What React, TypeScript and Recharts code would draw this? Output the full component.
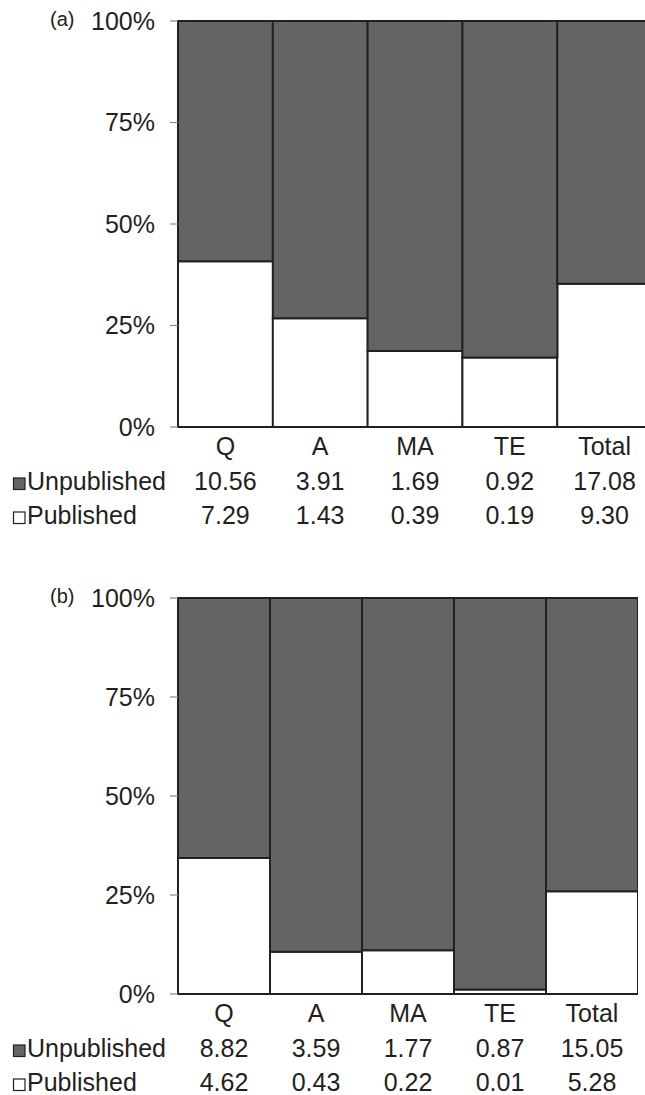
import React from 'react';
import { Bar, BarChart, XAxis, YAxis } from 'recharts';

const categories = ['Q', 'A', 'MA', 'TE', 'Total'];
const unpublishedA = [10.56, 3.91, 1.69, 0.92, 17.08];
const publishedA = [7.29, 1.43, 0.39, 0.19, 9.3];
const unpublishedB = [8.82, 3.59, 1.77, 0.87, 15.05];
const publishedB = [4.62, 0.43, 0.22, 0.01, 5.28];
const yTicks = [0, 0.25, 0.5, 0.75, 1];

const ink = '#231f20';
const darkFill = '#636466';
const font = '"Liberation Sans", Arial, sans-serif';

function buildRows(unpub: number[], pub: number[]) {
  return categories.map((c, i) => ({ cat: c, published: pub[i], unpublished: unpub[i] }));
}

function TableTick(props: any) {
  const { x, y, payload, unpub, pub } = props;
  const i = payload.index;
  return (
    <g fontFamily={font} fontSize={25} fill={ink}>
      <text x={x} y={y + 28} textAnchor="middle" fill={ink}>
        {payload.value}
      </text>
      <text x={x} y={y + 63} textAnchor="middle" fill={ink}>
        {unpub[i].toFixed(2)}
      </text>
      <text x={x} y={y + 97} textAnchor="middle" fill={ink}>
        {pub[i].toFixed(2)}
      </text>
      {i === 0 && (
        <g>
          <rect x={13.5} y={y + 51} width={11.5} height={11.5} fill={darkFill} stroke={ink} strokeWidth={1.2} />
          <text x={27} y={y + 63} fill={ink}>Unpublished</text>
          <rect x={13.5} y={y + 85} width={11.5} height={11.5} fill="#fff" stroke={ink} strokeWidth={1.2} />
          <text x={27} y={y + 97} fill={ink}>Published</text>
        </g>
      )}
    </g>
  );
}

function Panel({
  label,
  unpub,
  pub,
  top,
  width,
  height,
  marginTop,
}: {
  label: string;
  unpub: number[];
  pub: number[];
  top: number;
  width: number;
  height: number;
  marginTop: number;
}) {
  return (
    <div style={{ position: 'absolute', left: 0, top, width, height }}>
      <BarChart
        width={width}
        height={height}
        data={buildRows(unpub, pub)}
        stackOffset="expand"
        barCategoryGap={0}
        margin={{ top: marginTop, right: 0, bottom: 0, left: 0 }}
      >
        <XAxis
          dataKey="cat"
          height={113}
          tickLine={false}
          tickSize={0}
          tickMargin={0}
          interval={0}
          axisLine={{ stroke: ink, strokeWidth: 2 }}
          tick={<TableTick unpub={unpub} pub={pub} />}
        />
        <YAxis
          width={178}
          domain={[0, 1]}
          ticks={yTicks}
          tickFormatter={(v) => `${Math.round(v * 100)}%`}
          axisLine={false}
          tickLine={{ stroke: '#8a8a8a', strokeWidth: 1.2 }}
          tickSize={8}
          tickMargin={15}
          tick={{ fontSize: 25, fill: ink, fontFamily: font }}
        />
        <Bar dataKey="published" stackId="s" fill="#ffffff" stroke={ink} strokeWidth={2} isAnimationActive={false} />
        <Bar dataKey="unpublished" stackId="s" fill={darkFill} stroke={ink} strokeWidth={2} isAnimationActive={false} />
      </BarChart>
      <div
        style={{
          position: 'absolute',
          left: 50,
          top: marginTop - 13,
          fontFamily: font,
          fontSize: 20,
          color: ink,
          lineHeight: '22px',
        }}
      >
        {label}
      </div>
    </div>
  );
}

export default function App() {
  return (
    <div
      style={{
        position: 'absolute',
        left: 0,
        top: 0,
        width: 645,
        height: 1095,
        overflow: 'hidden',
        background: '#fff',
      }}
    >
      <Panel label="(a)" unpub={unpublishedA} pub={publishedA} top={0} width={652} height={540} marginTop={21} />
      <Panel label="(b)" unpub={unpublishedB} pub={publishedB} top={560} width={638} height={547} marginTop={38} />
    </div>
  );
}
